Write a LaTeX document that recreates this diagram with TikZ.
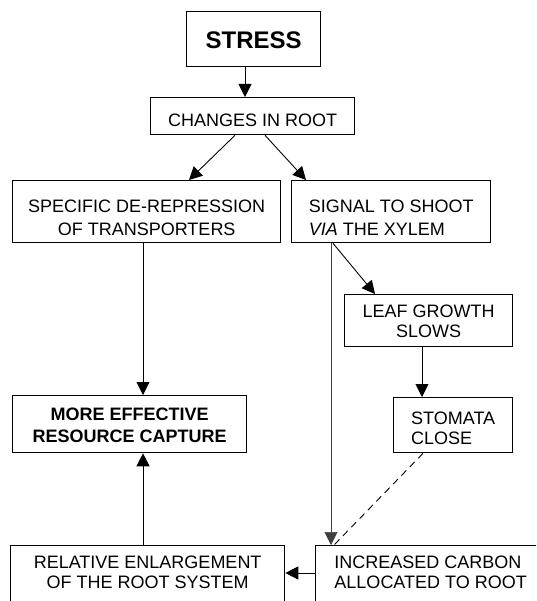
\documentclass[tikz,border=0pt]{standalone}
\usepackage{fontspec}
\setmainfont{Liberation Sans}
\usetikzlibrary{arrows.meta,calc}
\begin{document}
\begin{tikzpicture}[x=1pt,y=-1pt,
  box/.style={draw, line width=1.3pt, inner sep=0pt, anchor=north west, align=center,
    font=\fontsize{18}{23.5}\selectfont},
  arr/.style={line width=0.9pt, -{Triangle[length=13pt,width=13pt]}},
  thinline/.style={line width=0.6pt, draw=black!75},
  dashline/.style={line width=0.9pt, dash pattern=on 7pt off 5pt}]
\useasboundingbox (0,0) rectangle (536,601);
\clip (0,0) rectangle (536,601);

\node[box, minimum width=134pt, text height=37pt, text depth=18pt, font=\bfseries\fontsize{24}{28}\selectfont] (stress) at (186,11) {STRESS};
\node[box, minimum width=204pt, text height=29pt, text depth=8pt] (changes) at (150,97) {CHANGES IN ROOT};
\node[box, minimum width=268pt, text height=55pt, text depth=7pt] (spec) at (12,180) {SPECIFIC DE-REPRESSION\\OF TRANSPORTERS};
\node[box, minimum width=199pt, text height=55pt, text depth=7pt, align=left] (signal) at (291,180) {SIGNAL TO SHOOT\\\textit{VIA} THE XYLEM};
\node[box, minimum width=168pt, text height=43pt, text depth=9pt, font=\fontsize{18}{20}\selectfont] (leaf) at (344,294) {LEAF GROWTH\\SLOWS};
\node[box, minimum width=119pt, text height=47pt, text depth=8pt, align=left, font=\fontsize{18}{20}\selectfont] (stom) at (393,397) {STOMATA\\CLOSE};
\node[box, minimum width=234pt, text height=47pt, text depth=10pt, font=\bfseries\fontsize{18}{22}\selectfont] (more) at (12,395) {MORE EFFECTIVE\\RESOURCE CAPTURE};
\node[box, minimum width=274pt, text height=43pt, text depth=30pt, font=\fontsize{18}{20}\selectfont] (rel) at (10,545) {RELATIVE ENLARGEMENT\\OF THE ROOT SYSTEM};
\node[box, minimum width=230pt, text height=43pt, text depth=30pt, align=left, font=\fontsize{18}{20}\selectfont] (incr) at (315,545) {INCREASED CARBON\\ALLOCATED TO ROOT};

\draw[arr] ([xshift=59pt]stress.south west) -- ([xshift=95pt]changes.north west);
\draw[arr] ([xshift=85pt]changes.south west) -- ([xshift=177pt]spec.north west);
\draw[arr] ([xshift=115pt]changes.south west) -- ([xshift=15pt]signal.north west);
\draw[arr] ([xshift=131pt]spec.south west) -- ([xshift=131pt]more.north west);
\draw[arr, thinline] ([xshift=40pt]signal.south west) -- ([xshift=16pt]incr.north west);
\draw[arr] ([xshift=42pt]signal.south west) -- ([xshift=31pt]leaf.north west);
\draw[arr] ([xshift=78pt]leaf.south west) -- ([xshift=29pt]stom.north west);
\draw[dashline] ([xshift=30pt]stom.south west) -- ([xshift=19pt]incr.north west);
\draw[arr] ([yshift=-28pt]incr.north west) -- ([yshift=-28pt]rel.north east);
\draw[arr] ([xshift=133pt]rel.north west) -- ([xshift=131pt]more.south west);
\end{tikzpicture}
\end{document}
